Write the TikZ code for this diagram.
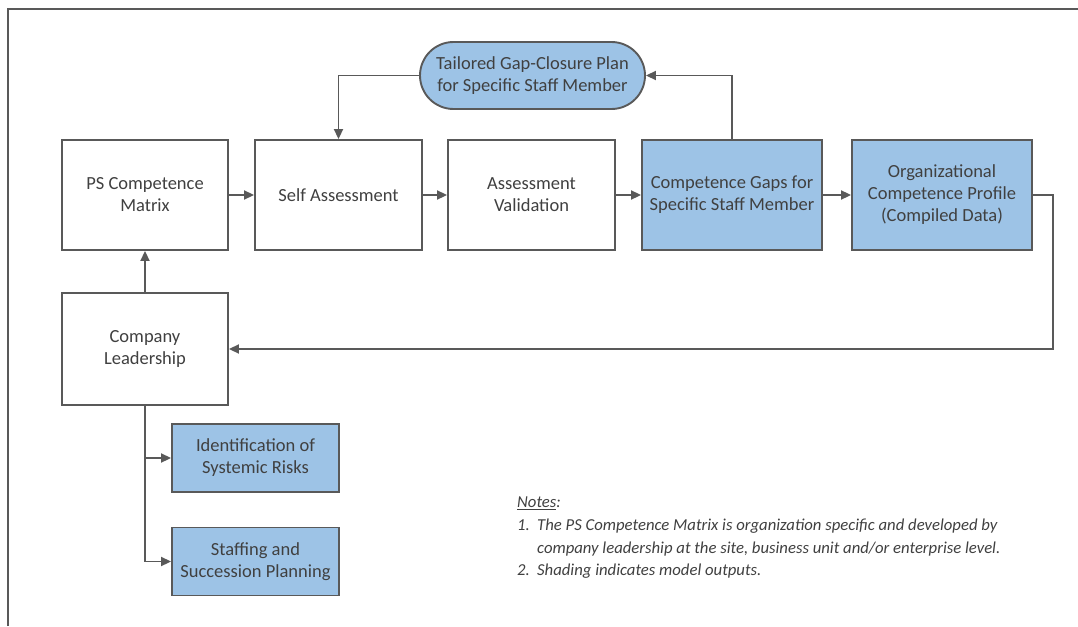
\documentclass[tikz,border=0pt]{standalone}
\usepackage{fontspec}
\setmainfont{Carlito}
\usetikzlibrary{arrows.meta,positioning,shapes.misc}
\definecolor{boxline}{HTML}{595959}
\definecolor{boxfill}{HTML}{9DC3E6}
\definecolor{txt}{HTML}{404040}
\tikzset{
  stepbox/.style={draw=boxline, line width=1.9pt, fill=white, minimum width=166pt, minimum height=110pt,
    align=center, text=txt, font=\fontsize{18.5}{22}\selectfont, inner sep=0pt},
  outbox/.style={stepbox, fill=boxfill},
  smallout/.style={outbox, minimum width=167pt, minimum height=68pt},
  pillbox/.style={draw=boxline, line width=1.9pt, fill=boxfill, rounded rectangle, minimum width=225pt,
    minimum height=67pt, align=center, text=txt, font=\fontsize{18.5}{22}\selectfont, inner sep=0pt},
  conn/.style={draw=boxline, line width=1.9pt, -{Triangle[length=10pt,width=9pt]}},
  plain/.style={draw=boxline, line width=1.9pt}
}
\begin{document}
\begin{tikzpicture}[x=1pt,y=-1pt]
\useasboundingbox (0,0) rectangle (1078,626);
% frame
\draw[plain] (8,626) -- (8,9) -- (1078,9);
% nodes
\node[stepbox] (ps) at (145,195) {PS Competence\\Matrix};
\node[stepbox, minimum width=167pt] (self) at (338.5,195) {Self Assessment};
\node[stepbox, minimum width=167pt] (val) at (531.5,195) {Assessment\\Validation};
\node[outbox, minimum width=180pt] (gaps) at (732,195) {Competence Gaps for\\Specific Staff Member};
\node[outbox, minimum width=180pt] (org) at (942,195) {Organizational\\Competence Profile\\(Compiled Data)};
\node[pillbox] (pill) at (532.5,75.5) {Tailored Gap-Closure Plan\\for Specific Staff Member};
\node[stepbox, minimum height=112pt] (lead) at (145,349) {Company\\Leadership};
\node[smallout] (ident) at (255.5,458) {Identification of\\Systemic Risks};
\node[smallout] (staff) at (255.5,561.5) {Staffing and\\Succession Planning};
% connectors
\draw[conn] (ps) -- (self);
\draw[conn] (self) -- (val);
\draw[conn] (val) -- (gaps);
\draw[conn] (gaps) -- (org);
\draw[conn] (gaps.north) |- (pill.east);
\draw[conn] (pill.west) -| (self.north);
\draw[conn] (org.east) -- ++(20,0) |- (lead.east);
\draw[conn] (lead.north) -- (ps.south);
\draw[conn] (lead.south) |- (ident.west);
\draw[conn] (lead.south) |- (staff.west);
% notes
\node[anchor=north west, align=left, text=txt, inner sep=0pt,
  font=\fontsize{16.7}{22.6}\selectfont\itshape] (notes) at (517,497)
  {\underline{Notes}:\\
   \makebox[20pt][l]{1.}The PS Competence Matrix is organization specific and developed by\\
   \hspace*{20pt}company leadership at the site, business unit and/or enterprise level.\\
   \makebox[20pt][l]{2.}Shading indicates model outputs.};
\end{tikzpicture}
\end{document}
